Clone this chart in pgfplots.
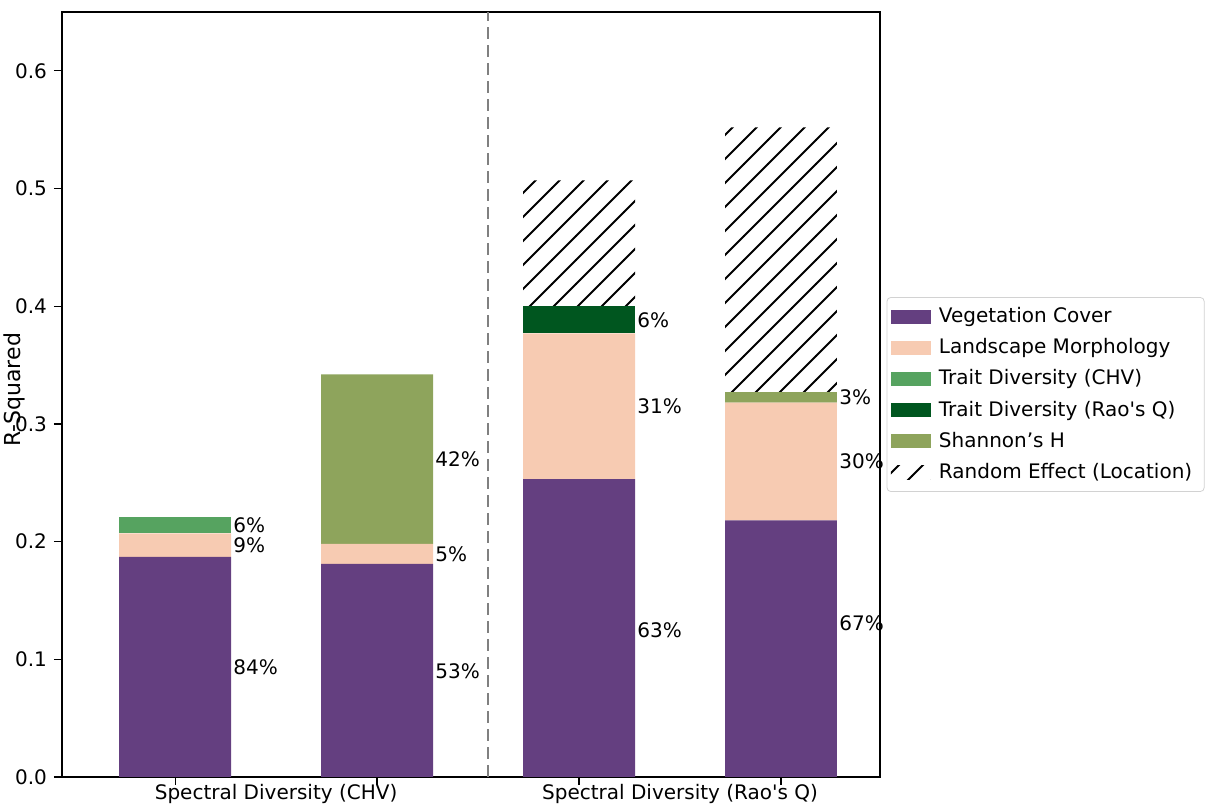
\documentclass[border=0pt]{standalone}
\usepackage{pgfplots}
\pgfplotsset{compat=1.18}
\usetikzlibrary{patterns}
\usepackage{fontspec}
\setmainfont{DejaVu Sans}[Ligatures=TeXOff]
\definecolor{veg}{HTML}{643F80}
\definecolor{land}{HTML}{F7CBB2}
\definecolor{tchv}{HTML}{56A360}
\definecolor{trao}{HTML}{00561F}
\definecolor{shan}{HTML}{8EA45C}
\pgfdeclarepatternformonly{hatch}{\pgfqpoint{-1pt}{-1pt}}{\pgfqpoint{13pt}{13pt}}{\pgfqpoint{12pt}{12pt}}{%
  \pgfsetlinewidth{1pt}%
  \pgfpathmoveto{\pgfqpoint{-0.1pt}{-0.1pt}}%
  \pgfpathlineto{\pgfqpoint{12.1pt}{12.1pt}}%
  \pgfusepath{stroke}}
\begin{document}
\begin{tikzpicture}
\begin{axis}[
  scale only axis,
  width=409pt, height=382.5pt,
  ybar stacked, bar width=0.554,
  xmin=0.44, xmax=4.49,
  ymin=0, ymax=0.65,
  xtick={1,2,3,4}, xticklabels={,,,},
  extra x ticks={1.5,3.5},
  extra x tick labels={Spectral Diversity (CHV),Spectral Diversity (Rao's Q)},
  extra x tick style={major tick length=0pt},
  ytick={0,0.1,0.2,0.3,0.4,0.5,0.6},
  yticklabels={0.0,0.1,0.2,0.3,0.4,0.5,0.6},
  tick align=outside, tick pos=left,
  major tick length=4pt,
  tick style={black, line width=0.6pt},
  axis line style={line width=0.6pt},
  ticklabel style={font=\fontsize{10}{12}\selectfont},
  ylabel={R-Squared},
  ylabel style={font=\fontsize{11}{13}\selectfont, at={(axis description cs:-0.058,0.506)}, anchor=center},
  legend style={at={(1.008,0.5)}, anchor=west, draw=gray!35, rounded corners=2pt,
    font=\fontsize{10}{12}\selectfont, row sep=2.5pt, inner xsep=2pt, inner ysep=3pt,
    cells={anchor=west}, nodes={inner xsep=4pt}},
  legend image code/.code={\path[#1,draw=none,sharp corners] (0pt,-3.5pt) rectangle (20pt,3.5pt);},
  clip=false,
]
\addplot[fill=veg, draw=none] coordinates {(1,0.187) (2,0.181) (3,0.253) (4,0.218)};
\addplot[fill=land, draw=none] coordinates {(1,0.020) (2,0.017) (3,0.124) (4,0.100)};
\addplot[fill=tchv, draw=none] coordinates {(1,0.014) (2,0) (3,0) (4,0)};
\addplot[fill=trao, draw=none] coordinates {(1,0) (2,0) (3,0.023) (4,0)};
\addplot[fill=shan, draw=none] coordinates {(1,0) (2,0.144) (3,0) (4,0.009)};
\addplot[draw=none, pattern=hatch, pattern color=black] coordinates {(1,0) (2,0) (3,0.107) (4,0.225)};
\legend{Vegetation Cover, Landscape Morphology, Trait Diversity (CHV), Trait Diversity (Rao's Q), Shannon’s H, Random Effect (Location)}
\draw[gray, line width=1pt, dash pattern=on 6pt off 3pt] (axis cs:2.55,0) -- (axis cs:2.55,0.65);
\node[anchor=west, inner sep=1pt, font=\fontsize{10}{12}\selectfont] at (axis cs:1.277,0.0935) {84\%};
\node[anchor=west, inner sep=1pt, font=\fontsize{10}{12}\selectfont] at (axis cs:1.277,0.197) {9\%};
\node[anchor=west, inner sep=1pt, font=\fontsize{10}{12}\selectfont] at (axis cs:1.277,0.214) {6\%};
\node[anchor=west, inner sep=1pt, font=\fontsize{10}{12}\selectfont] at (axis cs:2.277,0.090) {53\%};
\node[anchor=west, inner sep=1pt, font=\fontsize{10}{12}\selectfont] at (axis cs:2.277,0.189) {5\%};
\node[anchor=west, inner sep=1pt, font=\fontsize{10}{12}\selectfont] at (axis cs:2.277,0.270) {42\%};
\node[anchor=west, inner sep=1pt, font=\fontsize{10}{12}\selectfont] at (axis cs:3.277,0.125) {63\%};
\node[anchor=west, inner sep=1pt, font=\fontsize{10}{12}\selectfont] at (axis cs:3.277,0.315) {31\%};
\node[anchor=west, inner sep=1pt, font=\fontsize{10}{12}\selectfont] at (axis cs:3.277,0.3885) {6\%};
\node[anchor=west, inner sep=1pt, font=\fontsize{10}{12}\selectfont] at (axis cs:4.277,0.131) {67\%};
\node[anchor=west, inner sep=1pt, font=\fontsize{10}{12}\selectfont] at (axis cs:4.277,0.268) {30\%};
\node[anchor=west, inner sep=1pt, font=\fontsize{10}{12}\selectfont] at (axis cs:4.277,0.3225) {3\%};
\end{axis}
\pgfresetboundingbox
\useasboundingbox (-31pt,-17.5pt) rectangle (573pt,388.5pt);
\end{tikzpicture}
\end{document}
